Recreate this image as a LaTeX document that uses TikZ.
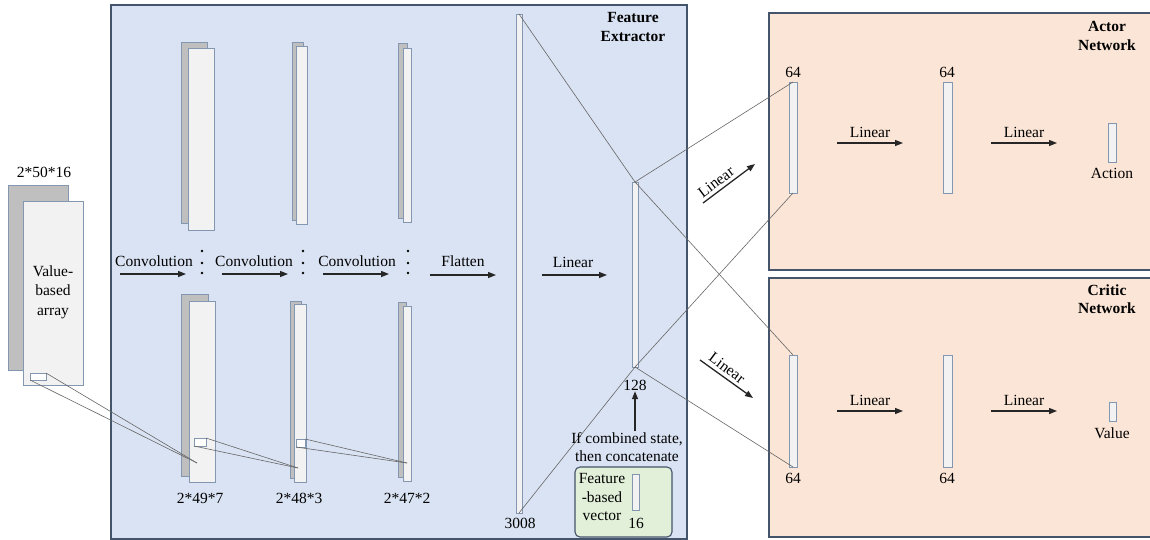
\documentclass[tikz,border=0pt]{standalone}
\usepackage{fontspec}
\setmainfont{Liberation Serif}
\newfontfamily\tnr{Liberation Serif}
\usetikzlibrary{arrows.meta}

\definecolor{boxline}{HTML}{44546A}
\definecolor{layline}{HTML}{8497B0}
\definecolor{fexfill}{HTML}{DAE3F3}
\definecolor{netfill}{HTML}{FBE5D6}
\definecolor{vecfill}{HTML}{E2F0D9}
\definecolor{layfill}{HTML}{F2F2F2}
\definecolor{backfill}{HTML}{BFBFBF}

\tikzset{
  lbl/.style={inner sep=0.75pt, align=center, font=\tnr\fontsize{15.5}{18.5}\selectfont},
  ttl/.style={lbl, font=\tnr\fontsize{15.5}{18.5}\selectfont\bfseries},
  layer/.style={draw=layline, fill=layfill, line width=0.9pt, inner sep=0pt, outer sep=0pt},
  backlayer/.style={layer, fill=backfill},
  panel/.style={draw=boxline, line width=1.4pt, inner sep=0pt, outer sep=0pt},
  arr/.style={-{Triangle[length=8pt,width=6pt]}, line width=1.3pt, draw=black!85},
  wire/.style={draw=black!60, line width=0.6pt}
}

\begin{document}
\begin{tikzpicture}[x=1pt,y=1pt,yscale=-1,xscale=1]
    \useasboundingbox (0,0) rectangle (1150,539);

    %Shape: Panels
    \node[panel, fill=fexfill, minimum width=576, minimum height=534] (fex) at (399,272) {};
    \node[panel, fill=netfill, minimum width=391, minimum height=257] (actor) at (964.5,141.5) {};
    \node[panel, fill=netfill, minimum width=391, minimum height=259] (critic) at (964.5,407.5) {};
    \node[panel, fill=vecfill, rounded corners=5pt, line width=1.1pt, minimum width=97, minimum height=70] (fvbox) at (623.5,502) {};

    %Shape: Input array
    \node[backlayer, minimum width=60, minimum height=185] (inback) at (38,277.5) {};
    \node[layer, minimum width=60, minimum height=184] (in) at (53,293) {};
    \node[layer, fill=white, minimum width=16, minimum height=7] (inwin) at (38,376.5) {};

    %Shape: Convolution layers (upper channel)
    \node[backlayer, minimum width=26, minimum height=181] (cva1) at (194,132.5) {};
    \node[layer, minimum width=26, minimum height=182] (cvb1) at (201,139) {};
    \node[backlayer, minimum width=11, minimum height=178] (cva2) at (297.5,131) {};
    \node[layer, minimum width=11, minimum height=178] (cvb2) at (301.5,135) {};
    \node[backlayer, minimum width=9, minimum height=175] (cva3) at (402.5,130.5) {};
    \node[layer, minimum width=8, minimum height=174] (cvb3) at (407,135) {};

    %Shape: Convolution layers (lower channel)
    \node[backlayer, minimum width=27, minimum height=182] (cvc1) at (194.5,385) {};
    \node[layer, minimum width=26, minimum height=181] (cvd1) at (202,391.5) {};
    \node[backlayer, minimum width=11, minimum height=177] (cvc2) at (295.5,389.5) {};
    \node[layer, minimum width=12, minimum height=178] (cvd2) at (300,393) {};
    \node[backlayer, minimum width=8, minimum height=175] (cvc3) at (402,389.5) {};
    \node[layer, minimum width=8, minimum height=175] (cvd3) at (407,393.5) {};
    \node[layer, fill=white, minimum width=12, minimum height=8] (win1) at (200,442) {};
    \node[layer, fill=white, minimum width=9, minimum height=8] (win2) at (300.5,443) {};

    %Shape: Dense layers
    \node[layer, minimum width=6, minimum height=499] (flat) at (519,263.5) {};
    \node[layer, minimum width=6, minimum height=185] (h128) at (635,274.5) {};
    \node[layer, minimum width=7, minimum height=36] (v16) at (635.5,492) {};
    \node[layer, minimum width=8, minimum height=111] (a1) at (793,137.5) {};
    \node[layer, minimum width=9, minimum height=111] (a2) at (947.5,137.5) {};
    \node[layer, minimum width=8, minimum height=39] (act) at (1112,142.5) {};
    \node[layer, minimum width=8, minimum height=112] (c1) at (793,411) {};
    \node[layer, minimum width=9, minimum height=112] (c2) at (947.5,411) {};
    \node[layer, minimum width=7, minimum height=19] (val) at (1112.5,411.5) {};

    %Shape: Receptive fields
    \coordinate (rf1) at (197,463);
    \coordinate (rf2) at (298,468);
    \coordinate (rf3) at (407,463);
    \draw[wire] (inwin.north east) -- (rf1);
    \draw[wire] (inwin.south west) -- (rf1);
    \draw[wire] (win1.north east) -- (rf2);
    \draw[wire] (win1.south west) -- (rf2);
    \draw[wire] (win2.north east) -- (rf3);
    \draw[wire] (win2.south west) -- (rf3);

    %Shape: Full connections
    \draw[wire] (flat.north) -- (h128.north);
    \draw[wire] (flat.south) -- (h128.south);
    \draw[wire] (h128.north) -- (a1.north);
    \draw[wire] (h128.south) -- (a1.south);
    \draw[wire] (h128.north) -- (c1.north);
    \draw[wire] (h128.south) -- (c1.south);

    %Shape: Vertical dots
    \foreach \dx in {202,303,408}
      \foreach \dy in {251,263,273}
        \fill (\dx,\dy) circle (1.3);

    %Shape: Arrows
    \coordinate (cv1s) at (120,274);  \coordinate (cv1e) at (186,274);
    \coordinate (cv2s) at (222,274);  \coordinate (cv2e) at (288,274);
    \coordinate (cv3s) at (323,274);  \coordinate (cv3e) at (389,274);
    \coordinate (fls) at (430,275);   \coordinate (fle) at (496,275);
    \coordinate (lns) at (542,275);   \coordinate (lne) at (607,275);
    \coordinate (aas) at (703,203);   \coordinate (aae) at (755,164);
    \coordinate (ccs) at (700,360);   \coordinate (cce) at (753,398);
    \coordinate (al1s) at (837,143);  \coordinate (al1e) at (903,143);
    \coordinate (al2s) at (991,143);  \coordinate (al2e) at (1057,143);
    \coordinate (cl1s) at (837,411);  \coordinate (cl1e) at (903,411);
    \coordinate (cl2s) at (991,411);  \coordinate (cl2e) at (1057,411);
    \draw[arr] (cv1s) -- (cv1e);
    \draw[arr] (cv2s) -- (cv2e);
    \draw[arr] (cv3s) -- (cv3e);
    \draw[arr] (fls) -- (fle);
    \draw[arr] (lns) -- (lne);
    \draw[arr] (aas) -- (aae);
    \draw[arr] (ccs) -- (cce);
    \draw[arr] (al1s) -- (al1e);
    \draw[arr] (al2s) -- (al2e);
    \draw[arr] (cl1s) -- (cl1e);
    \draw[arr] (cl2s) -- (cl2e);

    % Text Node
    \node[lbl] (insize) at (44,172) {2*50*16};
    \node[lbl, font=\tnr\fontsize{15.5}{19.5}\selectfont] (intxt) at (53,292) {Value-\\based\\array};
    \node[lbl] (cvt1) at (154,261) {Convolution};
    \node[lbl] (cvt2) at (254,261) {Convolution};
    \node[lbl] (cvt3) at (357,261) {Convolution};
    \node[lbl] (sz1) at (200,498) {2*49*7};
    \node[lbl] (sz2) at (299,498) {2*48*3};
    \node[lbl] (sz3) at (407,498) {2*47*2};
    \node[lbl] (flt) at (463,261) {Flatten};
    \node[lbl] (lnt) at (573,262) {Linear};
    \node[lbl] (n3008) at (520,523) {3008};
    \node[lbl] (n128) at (635,385) {128};
    \node[ttl] (fext) at (633,27) {Feature\\Extractor};
    \node[lbl] (cond) at (627,447) {If combined state,\\then concatenate};
    \node[lbl] (fvt) at (602,497) {Feature\\-based\\vector};
    \node[lbl] (n16) at (636,523) {16};
    \draw[arr] (cond.north -| n128) -- (n128.south);

    % Text Node
    \node[ttl] (actt) at (1107,36) {Actor\\Network};
    \node[lbl] (a1n) at (793,72) {64};
    \node[lbl] (a2n) at (947,72) {64};
    \node[lbl] (al1t) at (870,132) {Linear};
    \node[lbl] (al2t) at (1024,132) {Linear};
    \node[lbl] (actn) at (1112,173) {Action};
    \node[lbl, rotate=37] (aat) at (716,182) {Linear};

    % Text Node
    \node[ttl] (crit) at (1107,299) {Critic\\Network};
    \node[lbl] (c1n) at (793,478) {64};
    \node[lbl] (c2n) at (947,478) {64};
    \node[lbl] (cl1t) at (870,400) {Linear};
    \node[lbl] (cl2t) at (1024,400) {Linear};
    \node[lbl] (valn) at (1112,433) {Value};
    \node[lbl, rotate=-37] (cct) at (727,368) {Linear};
\end{tikzpicture}
\end{document}
